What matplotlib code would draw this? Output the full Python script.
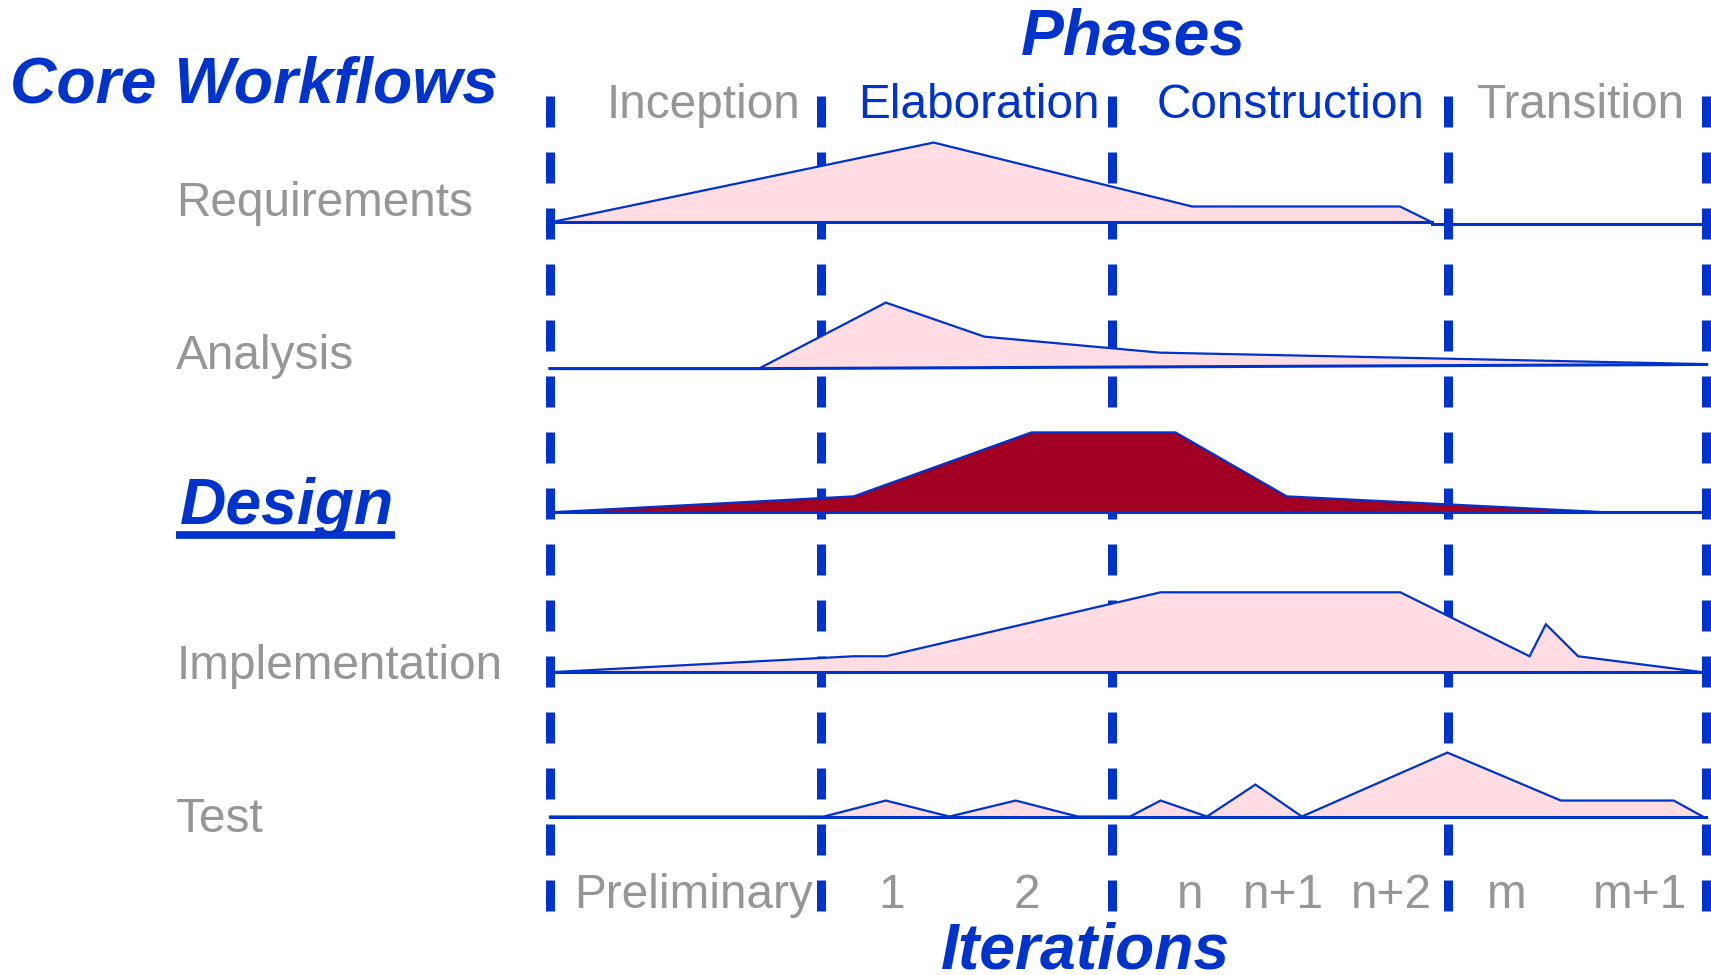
import matplotlib
matplotlib.use("Agg")
import matplotlib.pyplot as plt
import numpy as np

plt.rcParams['lines.scale_dashes'] = False

# ---------------- data ----------------
phases = ["Inception", "Elaboration", "Construction", "Transition"]
phase_colors = ["#969696", "#0033CC", "#0033CC", "#969696"]
phase_bounds = [504, 752, 1019, 1327, 1563]          # timeline positions of phase borders
phase_label_x = [645, 897.5, 1182.5, 1449]

iterations = ["Preliminary", "1", "2", "n", "n+1", "n+2", "m", "m+1"]
iteration_x = [635.5, 817, 941, 1091, 1176, 1275.5, 1381, 1502.5]

workflows = ["Requirements", "Analysis", "Design", "Implementation", "Test"]
row_base = [204, 338, 469.8, 616.4, 748.7]
label_baseline = [197.7, 338.2, 480.2, 622.5, 762.8]

# effort profiles: timeline x and effort level (units)
req_x = [504, 855.6, 1092.5, 1283, 1312.7]
req_h = [0, 5, 1, 1, 0]

ana_x = [504, 695.4, 811.8, 902.1, 1063, 1564]
ana_h = [0, 0, 4.13, 2.0, 1.0, 0.28]
ana_base_x = [504, 695.4, 1564]
ana_base_h = [0, 0, 0.26]

des_x = [504, 782.4, 945.2, 1077.3, 1179.2, 1473.6, 1563]
des_h = [0, 1, 5, 5, 1, 0, 0]

imp_x = [504, 782.4, 811.8, 1063.6, 1283.3, 1401.7, 1416.7, 1446.2, 1560.5]
imp_h = [0, 1, 1, 5, 5, 1, 3, 1, 0]

tst_x = [504, 755, 811.8, 870, 930.8, 987.6, 1035.6, 1063.6, 1106.1,
         1150.5, 1193, 1326.4, 1430.4, 1533.8, 1560.5]
tst_h = [0, 0, 1, 0, 1, 0, 0, 1, 0, 2, 0, 4, 1, 1, 0]

UNIT = 14.66  # pixels per effort unit

BLUE = "#0033CC"
GRAY = "#969696"
PINK = "#FFDDE2"
DARKRED = "#A10022"

# ---------------- figure ----------------
W, H = 1568, 894
fig = plt.figure(figsize=(17.11, 9.75), dpi=100)
ax = fig.add_axes([0, 0, 1, 1])
ax.set_xlim(0, W)
ax.set_ylim(H, 0)
ax.axis("off")

# dashed phase borders (pattern in pixels: dash 31, gap 25 at full size)
px2pt = 72 / 100
for xb in phase_bounds:
    ax.plot([xb, xb], [87.7, 835], color=BLUE, lw=9 * px2pt,
            dashes=(31 * px2pt, 25 * px2pt), dash_capstyle="butt", zorder=1)

def draw_profile(xs, hs, base, fill, bx=None, bh=None, base_end=1563):
    xs = np.asarray(xs, float)
    ys = base - np.asarray(hs, float) * UNIT
    tilted = bx is not None
    if bx is None:
        bx = [xs[0], xs[-1]]
        bh = [0, 0]
    bx = np.asarray(bx, float)
    by = base - np.asarray(bh, float) * UNIT
    poly_x = np.concatenate([xs, bx[::-1]])
    poly_y = np.concatenate([ys, by[::-1]])
    ax.fill(poly_x, poly_y, color=fill, lw=0, zorder=2)
    ax.plot(xs, ys, color=BLUE, lw=1.6, zorder=3, solid_joinstyle="miter")
    if tilted:
        ax.plot(bx, by, color=BLUE, lw=2.2, zorder=3)
    else:
        ax.plot([xs[0], base_end], [base, base], color=BLUE, lw=2.2, zorder=3)

draw_profile(req_x, req_h, row_base[0], PINK, base_end=req_x[-1])
ax.plot([req_x[-1], 1563], [row_base[0] + 1, row_base[0] + 1], color=BLUE, lw=2.2, zorder=3)
draw_profile(ana_x, ana_h, row_base[1], PINK, ana_base_x, ana_base_h)
draw_profile(des_x, des_h, row_base[2], DARKRED)
draw_profile(imp_x, imp_h, row_base[3], PINK)
draw_profile(tst_x, tst_h, row_base[4], PINK)

# ---------------- text ----------------
FONT = "Liberation Sans"
REG = 34.4
BIG = 46.3

ax.text(9.5, 94.1, "Core Workflows", fontsize=BIG, fontweight="bold", fontstyle="italic",
        color=BLUE, family=FONT, ha="left", va="baseline")
ax.text(1039, 50.4, "Phases", fontsize=BIG, fontweight="bold", fontstyle="italic",
        color=BLUE, family=FONT, ha="center", va="baseline")
ax.text(994.5, 888, "Iterations", fontsize=BIG, fontweight="bold", fontstyle="italic",
        color=BLUE, family=FONT, ha="center", va="baseline")

for name, x, c in zip(phases, phase_label_x, phase_colors):
    ax.text(x, 108, name, fontsize=REG, color=c, family=FONT, ha="center", va="baseline")

for name, x in zip(iterations, iteration_x):
    ax.text(x, 833, name, fontsize=REG, color=GRAY, family=FONT, ha="center", va="baseline")

design_text = None
for name, yb in zip(workflows, label_baseline):
    if name == "Design":
        design_text = ax.text(165, yb, name, fontsize=BIG, fontweight="bold", fontstyle="italic",
                              color=BLUE, family=FONT, ha="left", va="baseline")
    else:
        ax.text(161.5, yb, name, fontsize=REG, color=GRAY, family=FONT, ha="left", va="baseline")

# underline for Design
fig.canvas.draw()
bb = design_text.get_window_extent(renderer=fig.canvas.get_renderer())
inv = ax.transData.inverted()
(x0, _), (x1, _) = inv.transform([[bb.x0, bb.y0], [bb.x1, bb.y1]])
ax.plot([161.3, x1 + 1], [490.2, 490.2], color=BLUE, lw=7.7 * px2pt,
        solid_capstyle="butt", zorder=3)

fig.savefig("out.png", dpi=100)
